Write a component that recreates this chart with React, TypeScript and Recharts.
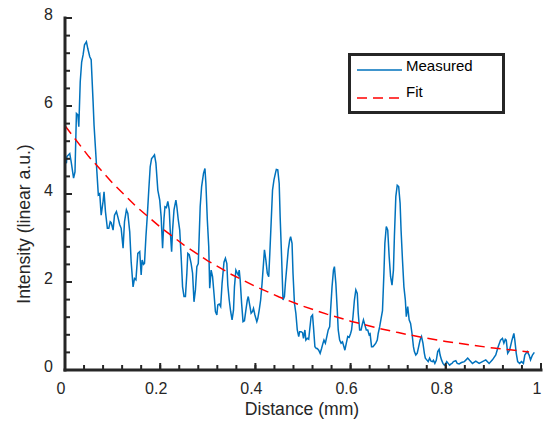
import { Legend, Line, LineChart, XAxis, YAxis } from 'recharts'

// Measured profile
const distance = [
  0.0, 0.003, 0.004, 0.01, 0.013, 0.018, 0.021, 0.024, 0.027, 0.029,
  0.032, 0.035, 0.038, 0.041, 0.045, 0.048, 0.052, 0.055, 0.059, 0.061,
  0.064, 0.067, 0.07, 0.073, 0.076, 0.08, 0.082, 0.085, 0.089, 0.092,
  0.095, 0.097, 0.101, 0.104, 0.108, 0.111, 0.115, 0.118, 0.122, 0.125,
  0.129, 0.132, 0.136, 0.139, 0.143, 0.146, 0.149, 0.153, 0.157, 0.16,
  0.162, 0.165, 0.167, 0.17, 0.173, 0.176, 0.179, 0.182, 0.184, 0.188,
  0.191, 0.195, 0.199, 0.202, 0.205, 0.208, 0.21, 0.213, 0.216, 0.219,
  0.221, 0.224, 0.226, 0.229, 0.233, 0.235, 0.238, 0.241, 0.244, 0.247,
  0.25, 0.253, 0.256, 0.258, 0.261, 0.265, 0.268, 0.271, 0.274, 0.277,
  0.28, 0.284, 0.287, 0.291, 0.294, 0.296, 0.299, 0.302, 0.304, 0.307,
  0.31, 0.313, 0.316, 0.319, 0.321, 0.324, 0.327, 0.33, 0.334, 0.337,
  0.34, 0.342, 0.345, 0.348, 0.351, 0.354, 0.356, 0.359, 0.362, 0.364,
  0.366, 0.368, 0.371, 0.374, 0.377, 0.38, 0.383, 0.385, 0.388, 0.391,
  0.394, 0.396, 0.399, 0.403, 0.405, 0.408, 0.411, 0.414, 0.417, 0.419,
  0.422, 0.425, 0.428, 0.43, 0.433, 0.436, 0.439, 0.442, 0.444, 0.447,
  0.45, 0.452, 0.455, 0.458, 0.461, 0.463, 0.466, 0.469, 0.472, 0.474,
  0.477, 0.479, 0.482, 0.485, 0.488, 0.491, 0.493, 0.496, 0.499, 0.501,
  0.504, 0.506, 0.509, 0.512, 0.514, 0.517, 0.52, 0.522, 0.525, 0.528,
  0.53, 0.533, 0.536, 0.539, 0.542, 0.544, 0.547, 0.55, 0.553, 0.556,
  0.558, 0.561, 0.564, 0.566, 0.569, 0.572, 0.574, 0.577, 0.58, 0.583,
  0.586, 0.588, 0.591, 0.594, 0.597, 0.6, 0.602, 0.605, 0.608, 0.611,
  0.614, 0.616, 0.619, 0.622, 0.625, 0.627, 0.63, 0.633, 0.636, 0.639,
  0.641, 0.644, 0.647, 0.65, 0.653, 0.656, 0.658, 0.661, 0.664, 0.667,
  0.67, 0.672, 0.675, 0.678, 0.681, 0.684, 0.687, 0.69, 0.692, 0.695,
  0.698, 0.701, 0.704, 0.706, 0.709, 0.712, 0.715, 0.717, 0.72, 0.723,
  0.726, 0.729, 0.732, 0.734, 0.737, 0.74, 0.743, 0.746, 0.749, 0.752,
  0.755, 0.757, 0.76, 0.763, 0.766, 0.769, 0.772, 0.774, 0.777, 0.78,
  0.783, 0.786, 0.788, 0.791, 0.794, 0.797, 0.799, 0.802, 0.805, 0.808,
  0.811, 0.813, 0.816, 0.821, 0.824, 0.828, 0.833, 0.839, 0.846, 0.85,
  0.856, 0.863, 0.87, 0.877, 0.884, 0.891, 0.898, 0.905, 0.91, 0.915,
  0.919, 0.922, 0.925, 0.927, 0.93, 0.934, 0.939, 0.943, 0.945, 0.948,
  0.951, 0.955, 0.959, 0.963, 0.966, 0.971, 0.975, 0.978, 0.982, 0.986,
]

const intensity = [
  4.82, 4.7, 4.85, 4.92, 4.73, 4.36, 4.5, 5.83, 5.8, 5.53,
  6.55, 7.0, 7.16, 7.39, 7.46, 7.3, 7.12, 7.05, 6.1, 5.57,
  5.04, 4.5, 3.98, 4.01, 3.52, 3.83, 4.05, 3.6, 3.22, 3.22,
  3.37, 3.35, 3.18, 3.52, 3.6, 3.48, 3.3, 3.22, 2.77, 3.37,
  3.64, 3.56, 3.14, 2.46, 1.89, 2.08, 2.05, 2.65, 2.69, 2.16,
  2.5, 2.4, 2.42, 3.03, 3.52, 4.09, 4.62, 4.81, 4.83, 4.89,
  4.7, 4.09, 3.86, 3.48, 2.77, 3.45, 3.71, 3.69, 3.83, 3.64,
  3.18, 2.69, 3.18, 3.64, 3.86, 3.71, 3.41, 3.18, 2.58, 1.89,
  1.67, 1.67, 2.2, 2.65, 2.62, 2.42, 2.2, 1.55, 1.82, 2.35,
  2.42, 3.71, 4.17, 4.47, 4.58, 4.24, 3.41, 2.8, 1.86, 2.27,
  2.12, 1.74, 1.33, 1.25, 1.48, 1.5, 1.44, 1.97, 2.45, 2.54,
  2.42, 1.93, 1.59, 1.33, 1.14, 1.36, 1.89, 2.27, 2.2, 2.16,
  2.27, 2.05, 1.52, 1.1, 1.12, 1.36, 1.59, 1.67, 1.48, 1.29,
  1.33, 1.4, 1.25, 1.1, 1.17, 1.36, 1.59, 1.97, 2.42, 2.73,
  2.5, 2.2, 2.12, 2.58, 3.33, 4.09, 4.32, 4.47, 4.56, 4.55,
  4.24, 3.48, 2.58, 1.59, 1.67, 1.97, 2.35, 2.73, 2.95, 3.03,
  2.88, 2.2, 1.52, 1.29, 0.91, 0.76, 0.87, 0.87, 0.85, 0.72,
  0.91, 0.68, 0.72, 0.7, 0.91, 1.21, 1.25, 0.98, 0.53, 0.49,
  0.49, 0.45, 0.38, 0.49, 0.61, 0.68, 0.61, 0.76, 0.91, 0.98,
  1.36, 1.89, 2.27, 2.35, 1.97, 1.36, 0.91, 0.68, 0.61, 0.64,
  0.53, 0.45, 0.61, 0.76, 0.74, 0.83, 0.91, 1.21, 1.59, 1.82,
  1.74, 1.29, 0.91, 0.91, 1.06, 1.14, 1.02, 0.91, 0.91, 0.8,
  0.82, 0.53, 0.53, 0.57, 0.61, 0.68, 0.83, 0.98, 1.17, 1.35,
  2.2, 2.88, 3.26, 3.18, 2.58, 2.12, 1.93, 2.27, 3.03, 3.94,
  4.2, 4.17, 3.79, 3.18, 2.5, 1.89, 1.59, 1.21, 1.44, 1.14,
  1.06, 0.83, 0.53, 0.42, 0.34, 0.38, 0.53, 0.68, 0.76, 0.61,
  0.38, 0.27, 0.23, 0.19, 0.27, 0.2, 0.19, 0.22, 0.15, 0.22,
  0.42, 0.47, 0.34, 0.23, 0.15, 0.11, 0.13, 0.19, 0.15, 0.11,
  0.14, 0.15, 0.19, 0.21, 0.15, 0.14, 0.17, 0.19, 0.27, 0.22,
  0.15, 0.2, 0.15, 0.19, 0.23, 0.15, 0.23, 0.34, 0.53, 0.68,
  0.72, 0.61, 0.7, 0.68, 0.38, 0.45, 0.68, 0.83, 0.68, 0.38,
  0.19, 0.15, 0.19, 0.15, 0.34, 0.42, 0.34, 0.23, 0.34, 0.4,
]

// Exponential fit, sampled from the dashed curve
const fitDistance = [0, 0.05, 0.1, 0.15, 0.2, 0.25, 0.3, 0.35, 0.4, 0.45, 0.5, 0.55, 0.6, 0.65, 0.7, 0.75, 0.8, 0.85, 0.9, 0.95, 0.975]
const fitIntensity = [5.55, 4.85, 4.25, 3.71, 3.25, 2.84, 2.48, 2.17, 1.9, 1.66, 1.45, 1.27, 1.11, 0.97, 0.85, 0.74, 0.65, 0.57, 0.5, 0.44, 0.41]

const xTicks = [0, 0.04, 0.08, 0.12, 0.16, 0.2, 0.24, 0.28, 0.32, 0.36, 0.4, 0.44, 0.48, 0.52, 0.56, 0.6, 0.64, 0.68, 0.72, 0.76, 0.8, 0.84, 0.88, 0.92, 0.96, 1]
const xMajor = ['0', '0.2', '0.4', '0.6', '0.8', '1']
const yTicks = [0, 0.4, 0.8, 1.2, 1.6, 2, 2.4, 2.8, 3.2, 3.6, 4, 4.4, 4.8, 5.2, 5.6, 6, 6.4, 6.8, 7.2, 7.6, 8]
const yMajor = ['0', '2', '4', '6', '8']

const measured = distance.map((d, i) => ({ d, v: intensity[i] }))
const fit = fitDistance.map((d, i) => ({ d, v: fitIntensity[i] }))

const FONT = '"Liberation Sans", Arial, Helvetica, sans-serif'
const AX = '#262626'
const BLUE = '#0072BD'
const RED = '#FF0000'
const MINOR = 5
const MAJOR = 7

// tick props: x/y sit at the inner end of the (inward) tick line
function XTick(props: any) {
  const x = Number(props.x)
  const y = Number(props.y) + MINOR // back to the axis line
  const label = xMajor.find((s) => Math.abs(Number(s) - props.payload.value) < 1e-6)
  return (
    <g>
      {label && <rect x={x - 1} y={y - MAJOR} width={2} height={MAJOR} fill={AX} />}
      {label && (
        <text x={x - 4} y={y + 24} textAnchor="middle" fontSize={16} fontFamily={FONT} fill={AX}>
          {label}
        </text>
      )}
    </g>
  )
}

function YTick(props: any) {
  const x = Number(props.x) - MINOR
  const y = Number(props.y)
  const label = yMajor.find((s) => Math.abs(Number(s) - props.payload.value) < 1e-6)
  return (
    <g>
      {label && <rect x={x} y={y - 1} width={MAJOR} height={2} fill={AX} />}
      {label && (
        <text x={x - 12} y={y + 2} textAnchor="end" fontSize={16} fontFamily={FONT} fill={AX}>
          {label}
        </text>
      )}
    </g>
  )
}

function LegendBox() {
  return (
    <svg width={157} height={61} style={{ display: 'block' }}>
      <rect x={1.5} y={1.5} width={154} height={58} fill="#fff" stroke={AX} strokeWidth={3} />
      <line x1={9} x2={54} y1={17} y2={17} stroke={BLUE} strokeWidth={1.5} />
      <text x={58} y={18} fontSize={15} fontFamily={FONT} fill="#000">Measured</text>
      <line x1={9} x2={54} y1={45} y2={45} stroke={RED} strokeWidth={1.5} strokeDasharray="10 6" />
      <text x={58} y={44} fontSize={15} fontFamily={FONT} fill="#000">Fit</text>
    </svg>
  )
}

export default function App() {
  return (
    <div style={{ position: 'absolute', left: 0, top: 0, background: '#fff' }}>
      <LineChart width={548} height={435} margin={{ top: 18, right: 7, left: 0, bottom: 0 }}>
        <XAxis
          type="number"
          dataKey="d"
          domain={[0, 1]}
          ticks={xTicks}
          interval={0}
          height={65}
          tickSize={-MINOR}
          tickMargin={0}
          tickLine={{ stroke: AX, strokeWidth: 2 }}
          tick={<XTick />}
          axisLine={{ stroke: AX, strokeWidth: 3, strokeLinecap: 'square' }}
          label={() => (
            <text x={302} y={415} textAnchor="middle" fontSize={17.6} fontFamily={FONT} fill={AX}>
              Distance (mm)
            </text>
          )}
        />
        <YAxis
          type="number"
          dataKey="v"
          domain={[0, 8]}
          ticks={yTicks}
          interval={0}
          width={65}
          tickSize={-MINOR}
          tickMargin={0}
          tickLine={{ stroke: AX, strokeWidth: 2 }}
          tick={<YTick />}
          axisLine={{ stroke: AX, strokeWidth: 3, strokeLinecap: 'square' }}
          label={() => (
            <text
              x={30}
              y={224}
              transform="rotate(-90, 30, 224)"
              textAnchor="middle"
              fontSize={17.6}
              fontFamily={FONT}
              fill={AX}
            >
              Intensity (linear a.u.)
            </text>
          )}
        />
        <Legend
          layout="horizontal"
          verticalAlign="middle"
          align="center"
          content={() => <LegendBox />}
          wrapperStyle={{ left: 348, top: 53, width: 157, height: 61 }}
        />
        <Line
          data={measured}
          dataKey="v"
          name="Measured"
          type="linear"
          stroke={BLUE}
          strokeWidth={1.5}
          dot={false}
          isAnimationActive={false}
        />
        <Line
          data={fit}
          dataKey="v"
          name="Fit"
          type="linear"
          stroke={RED}
          strokeWidth={1.5}
          strokeDasharray="10 6"
          dot={false}
          isAnimationActive={false}
        />
      </LineChart>
    </div>
  )
}
